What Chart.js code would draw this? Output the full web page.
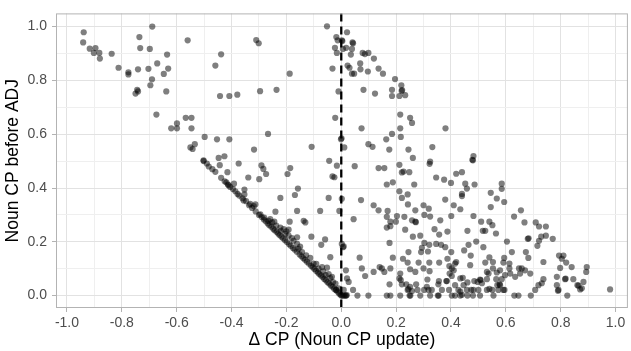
<!DOCTYPE html>
<html>
<head>
  <title>Noun CP scatter</title>
  <script src="https://cdn.jsdelivr.net/npm/chart.js"></script>
  <style>
    body { margin: 0; background: #fff; }
    canvas { display: block; }
  </style>
</head>
<body>
  <canvas id="scatter" width="631" height="351"></canvas>

  <script>
    // points, [delta CP, noun CP before ADJ]
    const upperLeft = [
      [-0.939,0.979],[-0.941,0.941],[-0.917,0.918],[-0.896,0.920],[-0.902,0.902],[-0.882,0.902],
      [-0.880,0.881],[-0.837,0.899],[-0.812,0.847],[-0.776,0.830],[-0.776,0.822],[-0.741,0.841],
      [-0.703,0.843],[-0.689,1.000],[-0.736,0.961],[-0.733,0.920],[-0.698,0.917],[-0.671,0.863],
      [-0.635,0.896],[-0.631,0.844],[-0.647,0.824],[-0.690,0.804],[-0.696,0.782],[-0.744,0.765],
      [-0.741,0.759],[-0.750,0.751],[-0.638,0.759],[-0.674,0.673],[-0.620,0.622],[-0.599,0.640],
      [-0.599,0.622],[-0.567,0.661],[-0.546,0.661],[-0.546,0.622],[-0.560,0.949],[-0.498,0.590],
      [-0.550,0.551],[-0.542,0.545],[-0.534,0.563],[-0.502,0.503],[-0.502,0.500],
      [-0.459,0.855],[-0.438,0.897],[-0.310,0.950],[-0.301,0.938],[-0.188,0.825],[-0.442,0.742],
      [-0.408,0.742],[-0.379,0.747],[-0.296,0.760],[-0.236,0.765],[-0.267,0.601],[-0.318,0.543],
      [-0.453,0.581],[-0.408,0.581],[-0.447,0.512],[-0.426,0.518],[-0.108,0.553]
    ];

    const band = [
      [-0.483,0.480],[-0.443,0.485],[-0.459,0.460],[-0.415,0.459],[-0.438,0.438],[-0.419,0.421],
      [-0.413,0.413],[-0.411,0.410],[-0.391,0.416],[-0.374,0.491],[-0.339,0.439],[-0.386,0.388],
      [-0.378,0.378],[-0.353,0.394],[-0.353,0.376],[-0.356,0.354],[-0.336,0.336],[-0.347,0.351],
      [-0.332,0.341],[-0.319,0.333],[-0.313,0.339],[-0.291,0.484],[-0.284,0.471],[-0.274,0.452],
      [-0.299,0.433],[-0.186,0.474],[-0.196,0.452],[-0.158,0.398],[-0.169,0.374],[-0.222,0.363],
      [-0.044,0.501],[-0.032,0.443],[-0.046,0.363],[-0.016,0.483],[-0.025,0.440],[-0.161,0.315],
      [-0.077,0.315],[-0.295,0.302],[-0.281,0.290],[-0.265,0.278],[-0.259,0.284],[-0.252,0.272],
      [-0.244,0.275],[-0.240,0.312],[-0.237,0.260],[-0.222,0.253],[-0.220,0.241],[-0.210,0.247],
      [-0.200,0.239],[-0.192,0.245],[-0.188,0.275],[-0.204,0.229],[-0.192,0.223],[-0.180,0.214],
      [-0.174,0.204],[-0.161,0.217],[-0.161,0.192],[-0.156,0.174],[-0.143,0.162],[-0.137,0.278],
      [-0.131,0.272],[-0.109,0.219],[-0.059,0.209],[-0.073,0.189],[-0.101,0.119],[-0.070,0.106],
      [-0.052,0.104],[-0.040,0.143],[-0.034,0.070],[-0.040,0.065],[-0.030,0.050],[-0.018,0.021],
      [-0.010,0.027],[-0.091,0.118],[-0.083,0.100],[-0.066,0.090],[-0.057,0.076],[-0.046,0.080],
      [-0.021,0.045],[-0.113,0.140],[-0.128,0.150],[-0.150,0.182]
    ];

    // points sitting on the lower edge (noun CP after ADJ close to 0)
    const edge = [
      [-0.490,0.491],[-0.470,0.470],[-0.425,0.425],[-0.405,0.404],[-0.395,0.396],[-0.372,0.372],
      [-0.360,0.362],[-0.325,0.326],[-0.312,0.313],[-0.300,0.300],[-0.290,0.292],[-0.282,0.283],
      [-0.275,0.276],[-0.268,0.268],[-0.262,0.262],[-0.255,0.256],[-0.248,0.249],[-0.243,0.243],
      [-0.236,0.237],[-0.230,0.231],[-0.225,0.225],[-0.218,0.219],[-0.212,0.213],[-0.205,0.206],
      [-0.198,0.199],[-0.190,0.191],[-0.184,0.185],[-0.176,0.177],[-0.170,0.171],[-0.162,0.163],
      [-0.152,0.153],[-0.145,0.146],[-0.138,0.139],[-0.132,0.133],[-0.125,0.126],[-0.118,0.119],
      [-0.110,0.111],[-0.104,0.105],[-0.098,0.099],[-0.092,0.092],[-0.085,0.086],[-0.080,0.080],
      [-0.074,0.075],[-0.068,0.069],[-0.062,0.062],[-0.056,0.057],[-0.050,0.050],[-0.044,0.045],
      [-0.038,0.038],[-0.032,0.033],[-0.026,0.026],[-0.020,0.021],[-0.014,0.015],[-0.008,0.008],
      [-0.003,0.004],[0.000,0.000],[0.005,0.000],[0.010,0.000]
    ];

    const upperRight = [
      [-0.052,1.001],[0.021,0.979],[-0.018,0.961],[-0.013,0.949],[0.002,0.949],[0.004,0.946],
      [0.041,0.941],[0.043,0.938],[-0.023,0.921],[0.018,0.921],[0.039,0.917],[0.006,0.917],
      [-0.016,0.902],[0.035,0.896],[0.078,0.902],[0.086,0.898],[0.099,0.902],[0.119,0.881],
      [0.069,0.863],[0.023,0.855],[0.030,0.847],[-0.032,0.844],[0.070,0.841],[0.097,0.833],
      [0.039,0.825],[0.047,0.825],[0.136,0.844],[0.152,0.825],[0.196,0.805],[0.219,0.782],
      [0.220,0.761],[0.222,0.764],[0.185,0.765],[0.185,0.742],[0.212,0.742],[0.233,0.745],
      [0.081,0.765],[0.123,0.751],[-0.010,0.759],[-0.022,0.661],[0.074,0.622],[0.215,0.673],
      [0.215,0.622],[0.185,0.601],[0.217,0.590],[0.164,0.581],[0.175,0.543],[0.099,0.563],
      [0.114,0.553],[-0.001,0.581],[0.001,0.585],[0.011,0.551],[0.245,0.543],[0.251,0.661],
      [0.258,0.642],[0.380,0.622],[0.261,0.512],[0.332,0.552],[0.482,0.519],[0.480,0.503],
      [0.478,0.505],[0.324,0.498],[0.049,0.481],[0.212,0.486],[0.227,0.461]
    ];

    const lowerMid = [
      [0.136,0.474],[0.157,0.474],[0.221,0.458],[0.248,0.459],[0.322,0.490],[0.346,0.439],
      [0.375,0.431],[0.419,0.453],[0.440,0.459],[0.166,0.413],[0.188,0.421],[0.266,0.413],
      [0.212,0.388],[0.242,0.376],[0.221,0.363],[0.243,0.339],[0.300,0.336],[0.319,0.323],
      [0.303,0.300],[0.324,0.294],[0.270,0.317],[0.118,0.336],[0.136,0.317],[0.072,0.355],
      [0.002,0.360],[-0.007,0.315],[0.045,0.284],[0.166,0.293],[0.179,0.275],[0.199,0.275],
      [0.166,0.253],[0.179,0.258],[0.169,0.315],[0.203,0.296],[0.230,0.293],[0.258,0.280],
      [0.270,0.275],[0.272,0.273],[0.233,0.245],[0.261,0.219],[0.288,0.223],[0.340,0.247],
      [0.357,0.227],[0.361,0.280],[0.387,0.238],[0.401,0.296],[0.379,0.357],[0.410,0.336],
      [0.434,0.321],[0.176,0.196],[0.303,0.196],[0.321,0.189],[0.346,0.192],[0.364,0.189],
      [0.379,0.180],[0.294,0.178],[0.291,0.162],[0.316,0.164],[0.245,0.162],[0.401,0.162],
      [0.002,0.192],[0.009,0.183],[0.006,0.180],[0.067,0.141],[0.188,0.141],[0.225,0.137],
      [0.242,0.123],[0.282,0.123],[0.321,0.123],[0.357,0.123],[0.387,0.137],[0.419,0.125],
      [0.410,0.094],[0.075,0.101],[0.087,0.073],[0.118,0.088],[0.140,0.106],[0.148,0.101],
      [0.157,0.088],[0.179,0.101],[0.215,0.082],[0.217,0.058],[0.212,0.064],[0.251,0.098],
      [0.270,0.088],[0.300,0.101],[0.322,0.091],[0.314,0.060],[0.356,0.054],[0.383,0.054],
      [0.394,0.110],[0.403,0.101],[0.415,0.119],[0.395,0.082],[0.403,0.073],[0.017,0.094],
      [0.021,0.064],[0.027,0.051],[0.043,0.021],[0.009,0.021],[0.176,0.042],[0.221,0.042],
      [0.237,0.042],[0.251,0.033],[0.273,0.042],[0.278,0.021],[0.258,0.017],[0.242,0.021],
      [0.245,0.024],[0.302,0.021],[0.318,0.021],[0.330,0.021],[0.312,0.033],[0.354,0.042],
      [0.367,0.021],[0.385,0.054],[0.393,0.021],[0.415,0.039],[0.427,0.021],[0.440,0.003],
      [0.015,0.000],[0.018,0.000],[0.020,0.002],[0.059,0.000],[0.099,0.000],[0.166,0.000],
      [0.179,0.000],[0.215,0.000],[0.249,0.000],[0.252,0.000],[0.288,0.000],[0.324,0.000],
      [0.352,0.000],[0.355,0.000],[0.403,0.000],[0.415,0.000]
    ];

    const lowerRight = [
      [0.452,0.416],[0.486,0.413],[0.440,0.370],[0.440,0.378],[0.458,0.398],[0.400,0.419],
      [0.585,0.416],[0.585,0.397],[0.545,0.382],[0.567,0.361],[0.594,0.348],[0.545,0.329],
      [0.482,0.296],[0.510,0.275],[0.540,0.275],[0.551,0.262],[0.516,0.241],[0.525,0.241],
      [0.460,0.241],[0.564,0.231],[0.655,0.317],[0.630,0.294],[0.668,0.272],[0.709,0.272],
      [0.721,0.257],[0.746,0.257],[0.680,0.211],[0.683,0.213],[0.721,0.204],[0.729,0.219],
      [0.746,0.223],[0.771,0.211],[0.715,0.185],[0.604,0.201],[0.464,0.189],[0.492,0.201],
      [0.518,0.180],[0.448,0.168],[0.472,0.149],[0.622,0.162],[0.673,0.162],[0.682,0.140],
      [0.540,0.142],[0.553,0.125],[0.594,0.140],[0.591,0.123],[0.525,0.123],[0.737,0.125],
      [0.794,0.149],[0.810,0.149],[0.804,0.137],[0.820,0.123],[0.840,0.106],[0.798,0.103],
      [0.786,0.070],[0.895,0.106],[0.893,0.088],[0.816,0.061],[0.818,0.063],[0.846,0.061],
      [0.883,0.051],[0.865,0.037],[0.877,0.027],[0.786,0.039],[0.792,0.021],[0.790,0.018],
      [0.824,0.000],[0.737,0.061],[0.731,0.046],[0.719,0.039],[0.707,0.021],[0.691,0.000],
      [0.631,0.000],[0.646,0.000],[0.658,0.101],[0.670,0.094],[0.689,0.082],[0.613,0.101],
      [0.616,0.082],[0.634,0.070],[0.652,0.082],[0.648,0.101],[0.597,0.076],[0.585,0.061],
      [0.579,0.039],[0.595,0.021],[0.553,0.101],[0.567,0.086],[0.579,0.094],[0.537,0.082],
      [0.531,0.088],[0.506,0.060],[0.508,0.058],[0.497,0.051],[0.485,0.054],[0.531,0.061],
      [0.565,0.061],[0.569,0.039],[0.577,0.042],[0.470,0.113],[0.443,0.066],[0.460,0.049],
      [0.482,0.021],[0.474,0.021],[0.458,0.021],[0.500,0.021],[0.531,0.021],[0.540,0.025],
      [0.551,0.021],[0.555,0.000],[0.573,0.021],[0.591,0.021],[0.506,0.000],[0.480,0.000],
      [0.513,0.046],[0.613,0.119],[0.434,0.015],[0.434,0.000],[0.460,0.000],[0.434,0.064],
      [0.446,0.039],[0.980,0.023],[0.861,0.039],[0.871,0.023]
    ];

    // axis ranges and tick marks (major every 0.2, minor in between)
    const xRange = [-1.04, 1.045];
    const yRange = [-0.046, 1.049];
    const xTicks = [];
    for (let i = -10; i <= 10; i++) xTicks.push(i / 10);
    const yTicks = [];
    for (let i = 0; i <= 10; i++) yTicks.push(i / 10);

    const isMajor = v => Math.round(v * 10) % 2 === 0;
    const fontFamily = '"Liberation Sans", Arial, sans-serif';

    const points = [...upperLeft, ...band, ...edge, ...upperRight, ...lowerMid, ...lowerRight]
      .map(([x, y]) => ({ x, y }));

    // panel border and the dashed line at delta = 0
    const panelDecor = {
      id: 'panelDecor',
      afterDatasetsDraw(chart) {
        const { ctx, chartArea: a, scales } = chart;
        const x0 = scales.x.getPixelForValue(0);
        ctx.save();
        ctx.strokeStyle = '#000';
        ctx.lineWidth = 2.3;
        ctx.setLineDash([8, 5]);
        ctx.beginPath();
        ctx.moveTo(x0, a.top);
        ctx.lineTo(x0, a.bottom);
        ctx.stroke();
        ctx.setLineDash([]);
        ctx.strokeStyle = '#b3b3b3';
        ctx.lineWidth = 1;
        ctx.strokeRect(a.left + 0.5, a.top + 0.5, a.width - 1, a.height - 1);
        ctx.restore();
      }
    };

    function axis(range, ticks, title, isX) {
      return {
        type: 'linear',
        min: range[0],
        max: range[1],
        afterBuildTicks: s => { s.ticks = ticks.map(v => ({ value: v })); },
        afterFit: s => { if (isX) s.height = 43; else s.width = 53; },
        grid: {
          color: c => (c.tick && isMajor(c.tick.value)) ? '#e2e2e2' : '#efefef',
          lineWidth: 1,
          tickLength: 4,
          tickColor: c => (c.tick && isMajor(c.tick.value)) ? '#b3b3b3' : 'rgba(0,0,0,0)'
        },
        border: { display: false },
        ticks: {
          autoSkip: false,
          maxRotation: 0,
          padding: isX ? 3 : 5,
          color: '#4d4d4d',
          font: { family: fontFamily, size: 14 },
          callback: v => isMajor(v) ? v.toFixed(1) : ''
        },
        title: {
          display: true,
          text: title,
          color: '#000',
          padding: 0,
          font: { family: fontFamily, size: 17.5 }
        }
      };
    }

    new Chart(document.getElementById('scatter'), {
      type: 'scatter',
      data: {
        datasets: [{
          data: points,
          backgroundColor: 'rgba(0,0,0,0.5)',
          borderWidth: 0,
          pointRadius: 3.1,
          pointHoverRadius: 3.1
        }]
      },
      options: {
        responsive: false,
        animation: false,
        devicePixelRatio: 1,
        layout: { padding: { left: 3, right: 3, top: 10, bottom: 0 } },
        plugins: { legend: { display: false }, tooltip: { enabled: false } },
        scales: {
          x: axis(xRange, xTicks, 'Δ CP (Noun CP update)', true),
          y: axis(yRange, yTicks, 'Noun CP before ADJ', false)
        }
      },
      plugins: [panelDecor]
    });
  </script>
</body>
</html>
